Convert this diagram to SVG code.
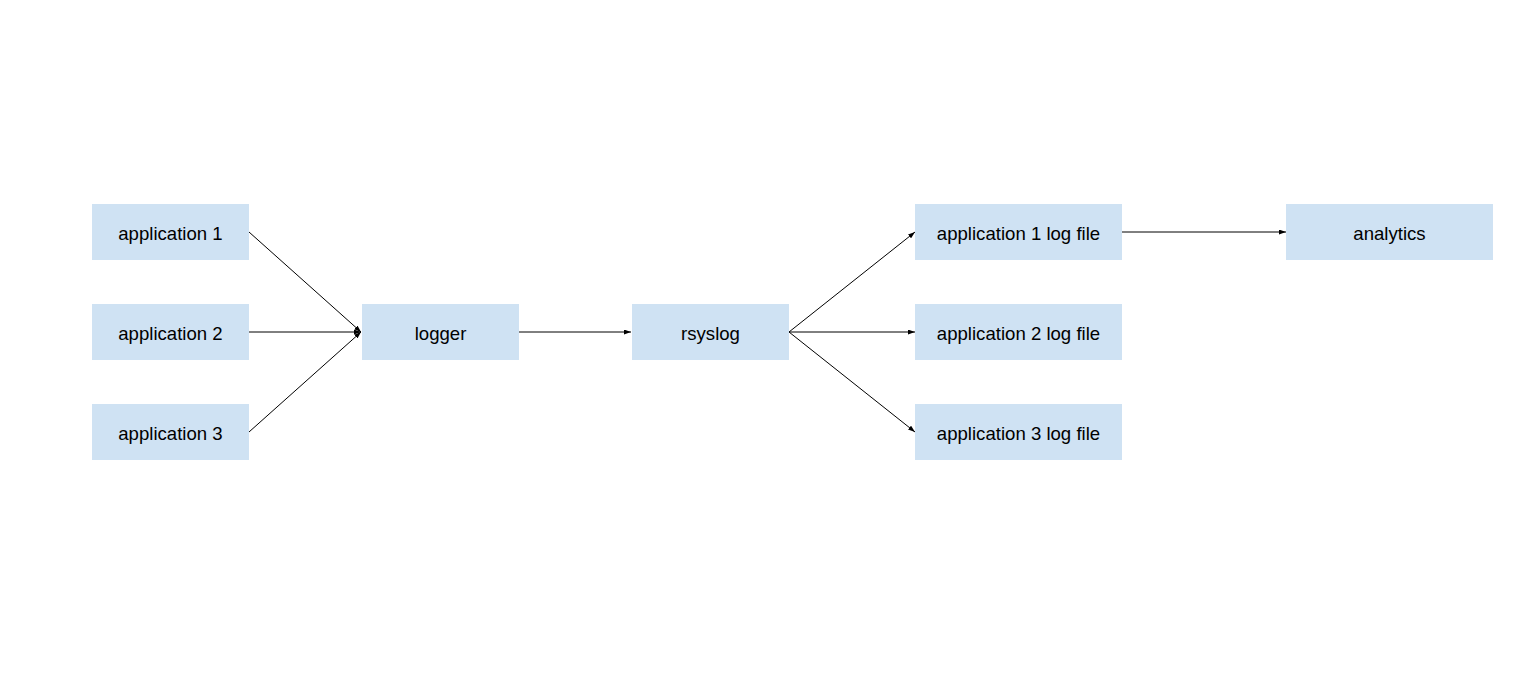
<svg xmlns="http://www.w3.org/2000/svg" width="1513" height="694" viewBox="0 0 1513 694">
<style>
.n{fill:#cfe2f3}
.t{font-family:"Liberation Sans",Arial,sans-serif;font-size:18.6px;fill:#000;text-anchor:middle;dominant-baseline:central}
.c{stroke:#000;stroke-width:1;fill:none;marker-end:url(#a)}
</style>
<defs>
<marker id="a" markerWidth="7" markerHeight="5" refX="7" refY="2.5" orient="auto" markerUnits="userSpaceOnUse">
<path d="M0,0 L7,2.5 L0,5 Z" fill="#000"/>
</marker>
</defs>
<rect width="1513" height="694" fill="#fff"/>
<g id="connectors">
<line class="c" x1="249" y1="232" x2="361" y2="332"/>
<line class="c" x1="249" y1="332" x2="361" y2="332"/>
<line class="c" x1="249" y1="432" x2="361" y2="332"/>
<line class="c" x1="519" y1="332" x2="631" y2="332"/>
<line class="c" x1="789" y1="332" x2="915" y2="232"/>
<line class="c" x1="789" y1="332" x2="915" y2="332"/>
<line class="c" x1="789" y1="332" x2="915" y2="432"/>
<line class="c" x1="1122" y1="232" x2="1286" y2="232"/>
</g>
<g id="app1"><rect class="n" x="92" y="204" width="157" height="56"/><text class="t" x="170.5" y="233">application 1</text></g>
<g id="app2"><rect class="n" x="92" y="304" width="157" height="56"/><text class="t" x="170.5" y="333">application 2</text></g>
<g id="app3"><rect class="n" x="92" y="404" width="157" height="56"/><text class="t" x="170.5" y="433">application 3</text></g>
<g id="logger"><rect class="n" x="362" y="304" width="157" height="56"/><text class="t" x="440.5" y="333">logger</text></g>
<g id="rsyslog"><rect class="n" x="632" y="304" width="157" height="56"/><text class="t" x="710.5" y="333">rsyslog</text></g>
<g id="log1"><rect class="n" x="915" y="204" width="207" height="56"/><text class="t" x="1018.5" y="233">application 1 log file</text></g>
<g id="log2"><rect class="n" x="915" y="304" width="207" height="56"/><text class="t" x="1018.5" y="333">application 2 log file</text></g>
<g id="log3"><rect class="n" x="915" y="404" width="207" height="56"/><text class="t" x="1018.5" y="433">application 3 log file</text></g>
<g id="analytics"><rect class="n" x="1286" y="204" width="207" height="56"/><text class="t" x="1389.5" y="233">analytics</text></g>
</svg>
